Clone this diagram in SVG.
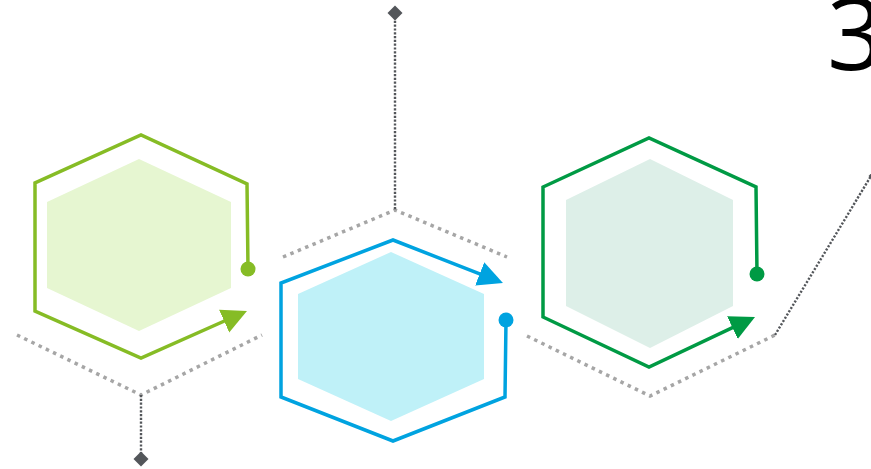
<svg xmlns="http://www.w3.org/2000/svg" width="871" height="469" viewBox="0 0 871 469">
  <style>
    .guide { fill: none; stroke: #a6a6a6; stroke-width: 3.5; stroke-dasharray: 3.5 4.5; }
    .stem { fill: none; stroke: #53565a; stroke-width: 2.4; stroke-dasharray: 2.2 1.6; }
    .pin { fill: #53565a; }
    .ring { fill: none; stroke-width: 3.5; stroke-linejoin: miter; }
    .num { font-family: "Open Sans", "Noto Sans", sans-serif; font-size: 100px; fill: #000; }
  </style>
  <defs>
    <marker id="headLime" markerUnits="userSpaceOnUse" markerWidth="26" markerHeight="26" refX="20" refY="12.5" orient="auto">
      <path d="M0,0 L25,12.5 L0,25 z" fill="#86bc25"/>
    </marker>
    <marker id="headBlue" markerUnits="userSpaceOnUse" markerWidth="26" markerHeight="26" refX="20" refY="12.5" orient="auto">
      <path d="M0,0 L25,12.5 L0,25 z" fill="#00a3e0"/>
    </marker>
    <marker id="headGreen" markerUnits="userSpaceOnUse" markerWidth="26" markerHeight="26" refX="20" refY="12.5" orient="auto">
      <path d="M0,0 L25,12.5 L0,25 z" fill="#009a44"/>
    </marker>
  </defs>

  <!-- dotted guide lines and pins -->
  <g id="connectors">
    <polyline class="guide" points="17,335 141,395 262,335"/>
    <polyline class="guide" points="283,257 395,210 507,257"/>
    <polyline class="guide" points="527,336 650,396 775,335"/>
    <line class="stem" x1="141" y1="395" x2="141" y2="455"/>
    <line class="stem" x1="395" y1="17" x2="395" y2="210"/>
    <line class="stem" x1="775" y1="335" x2="871" y2="176"/>
    <path class="pin" d="M141,451.5 L148.5,459 L141,466.5 L133.5,459 z"/>
    <path class="pin" d="M395,5.5 L402.5,13 L395,20.5 L387.5,13 z"/>
    <path class="pin" d="M876,168.5 L883.5,176 L876,183.5 L868.5,176 z"/>
  </g>

  <!-- left hexagon -->
  <g id="hex-left">
    <polygon points="139,159 231,202 231,288 139,331 47,288 47,202" fill="#e6f6d1"/>
    <path class="ring" stroke="#86bc25" d="M248,269 L247,184 L141,135 L35,183 L35,311 L141,358 L242.4,313" marker-end="url(#headLime)"/>
    <circle cx="248" cy="269" r="7.5" fill="#86bc25"/>
  </g>

  <!-- middle hexagon -->
  <g id="hex-middle">
    <polygon points="391,252 484,294 484,379 391,421 298,379 298,294" fill="#bff1f8"/>
    <path class="ring" stroke="#00a3e0" d="M506,320 L505,397 L393,441 L281,397 L281,283 L393,240 L498.3,281.2" marker-end="url(#headBlue)"/>
    <circle cx="506" cy="320" r="7.5" fill="#00a3e0"/>
  </g>

  <!-- right hexagon -->
  <g id="hex-right">
    <polygon points="650,159 733,200 733,306 650,348 566,306 566,200" fill="#ddefe8"/>
    <path class="ring" stroke="#009a44" d="M757,274 L756,187 L649,138 L543,187 L543,317 L649,367 L750.5,319.1" marker-end="url(#headGreen)"/>
    <circle cx="757" cy="274" r="7.5" fill="#009a44"/>
  </g>

  <!-- step number, running off the right edge -->
  <g id="label">
    <text class="num" x="827" y="70">3</text>
  </g>
</svg>
